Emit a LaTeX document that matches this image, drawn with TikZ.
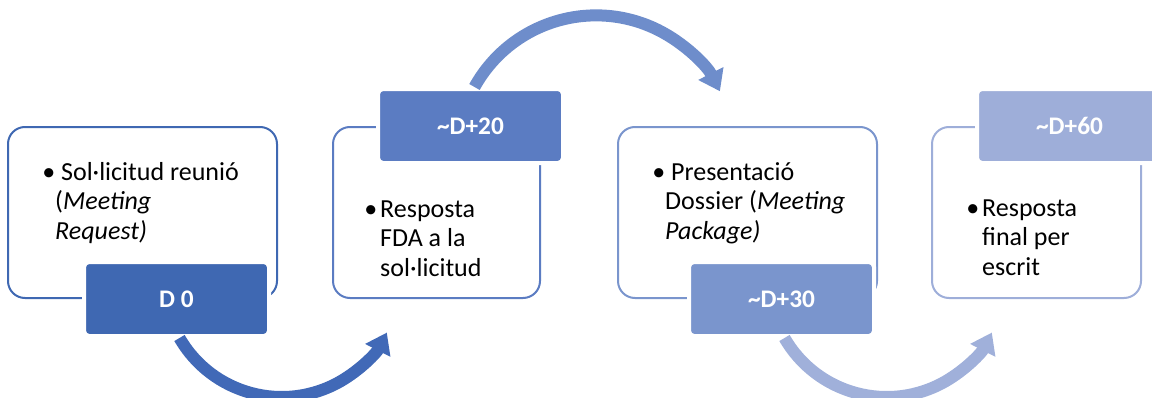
\documentclass[tikz,border=0pt]{standalone}
\usepackage{fontspec}
\setmainfont{Carlito}
\usepackage{tikz}
\usetikzlibrary{positioning, arrows.meta, calc}

\newlength\pix
\setlength\pix{0.025cm}

\definecolor{blauA}{HTML}{3F68B2}
\definecolor{blauB}{HTML}{5B7CC2}
\definecolor{blauC}{HTML}{7A95CD}
\definecolor{blauD}{HTML}{9EAED9}
\definecolor{fletxaA}{HTML}{4169B7}
\definecolor{fletxaB}{HTML}{6E8DCB}
\definecolor{fletxaC}{HTML}{A0B0DA}

\begin{document}
\begin{tikzpicture}[x=0.025cm, y=0.025cm,
    caixa/.style={draw=#1, rounded corners=17\pix, line width=2\pix, fill=white, minimum height=171\pix, inner sep=0pt},
    pestanya/.style={fill=#1, draw=white, line width=4\pix, rounded corners=5\pix, minimum width=185\pix, minimum height=74\pix, text=white, font=\bfseries\fontsize{18}{21}\selectfont},
    punts/.style={anchor=base west, inner sep=0pt, font=\fontsize{18.5}{21.3}\selectfont},
    fletxa/.style={draw=#1, line width=12\pix, -{Triangle[length=14.2pt, width=19.2pt]}}]
    \useasboundingbox (0,0) rectangle (1152,397);

    % Caixes
    \node[caixa=blauA, minimum width=269\pix] (peticio) at (142.5,184.5) {};
    \node[caixa=blauB, minimum width=207\pix] (resposta) at (436.5,184.5) {};
    \node[caixa=blauC, minimum width=259\pix] (dossier) at (747.5,184.5) {};
    \node[caixa=blauD, minimum width=209\pix] (final) at (1036.5,184.5) {};

    % Pestanyes amb les dates
    \node[pestanya=blauA] (d0) at ($(peticio.south west)+(169.5,0)$) {D 0};
    \node[pestanya=blauB] (d20) at ($(resposta.north west)+(138.5,0)$) {\textasciitilde D+20};
    \node[pestanya=blauC] (d30) at ($(dossier.south west)+(164.5,0)$) {\textasciitilde D+30};
    \node[pestanya=blauD] (d60) at ($(final.north west)+(138.5,0)$) {\textasciitilde D+60};

    % Textos
    \node[punts] (txtpeticio) at ($(peticio.north west)+(35,-54)$) {\begin{tabular}[t]{@{}l@{}l@{}}•&~Sol·licitud reunió\\&(\textit{Meeting}\\&\textit{Request)}\end{tabular}};
    \node[punts] (txtresposta) at ($(resposta.north west)+(32,-91)$) {\begin{tabular}[t]{@{}l@{\hspace{3\pix}}l@{}}•&Resposta\\&FDA a la\\&sol·licitud\end{tabular}};
    \node[punts] (txtdossier) at ($(dossier.north west)+(35,-54)$) {\begin{tabular}[t]{@{}l@{}l@{}}•&~Presentació\\&Dossier (\textit{Meeting}\\&\textit{Package)}\end{tabular}};
    \node[punts] (txtfinal) at ($(final.north west)+(35,-90)$) {\begin{tabular}[t]{@{}l@{\hspace{3\pix}}l@{}}•&Resposta\\&final per\\&escrit\end{tabular}};

    % Fletxes
    \draw[fletxa=fletxaA] ($(d0.south)+(3,0)$) arc[start angle=210, end angle=333, radius=118];
    \draw[fletxa=fletxaB] ($(d20.north)+(4,0)$) arc[start angle=151, end angle=27, radius=139];
    \draw[fletxa=fletxaC] ($(d30.south)+(3,0)$) arc[start angle=210, end angle=333, radius=118];
\end{tikzpicture}
\end{document}
